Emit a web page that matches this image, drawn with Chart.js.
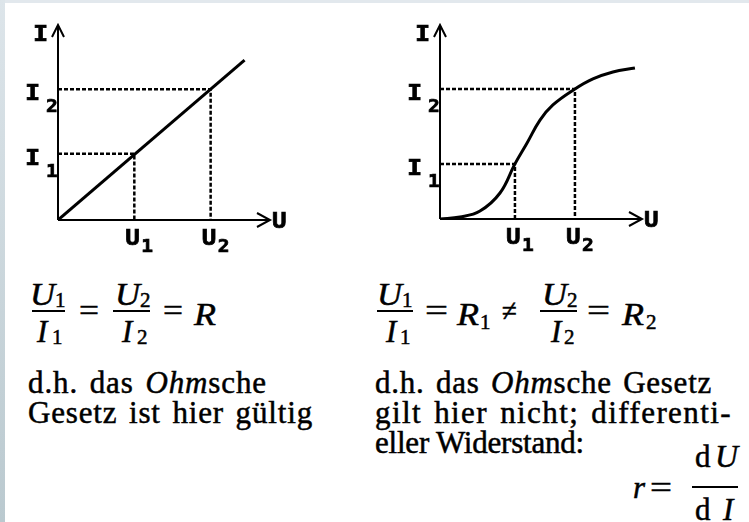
<!DOCTYPE html>
<html>
<head>
<meta charset="utf-8">
<script src="https://cdn.jsdelivr.net/npm/chart.js@4.4.1/dist/chart.umd.min.js"></script>
<style>
  body { margin: 0; background: #fff; }
  #page { position: relative; width: 749px; height: 522px; background: #fff; overflow: hidden;
          font-family: "Liberation Serif", "Times New Roman", serif; color: #000; }
  #page::before { content: ""; position: absolute; left: 0; top: 0; width: 100%; height: 3px; background: #e2e8ed; }
  #page::after { content: ""; position: absolute; left: 0; top: 0; width: 5px; height: 100%;
                 background: linear-gradient(#dde5ea, #bac9cf); }
  canvas { position: absolute; top: 0; }
  #ohm { left: 0; }
  #curve { left: 375px; }
  .t { position: absolute; white-space: nowrap; line-height: 1; transform-origin: 0 0;
       -webkit-text-stroke: 0.5px #000; }
  .bar { position: absolute; height: 2px; background: #000; }
</style>
</head>
<body>
<div id="page">
  <canvas id="ohm" width="330" height="270"></canvas>
  <canvas id="curve" width="374" height="270"></canvas>
</div>
<script>
// left graph: ohmic resistor, straight line through the origin
const ohmU = [0, 8.8];
const ohmI = [0, 8.2];
const ohmMarksU = [3.6, 7.2];   // U1, U2
const ohmMarksI = [3.4, 6.7];   // I1, I2

// right graph: non-linear characteristic
const curveU = [0, 0.99, 1.98, 2.97, 3.71, 4.31, 4.95, 5.59, 6.68, 7.57, 8.56, 9.65];
const curveI = [0, 0.1, 0.41, 1.34, 2.84, 3.92, 5.1, 5.88, 6.7, 7.22, 7.58, 7.78];
const curveMarksU = [3.71, 6.68];
const curveMarksI = [2.84, 6.7];

const markIndex = ['1', '2'];
const axisNames = { x: 'U', y: 'I' };

const LABEL_FONT = '"DejaVu Sans Mono", monospace';

function txt(ctx, s, x, y, size) {
  ctx.save();
  ctx.font = 'bold ' + size + 'px ' + LABEL_FONT;
  ctx.translate(x, y);
  ctx.scale(1.15, 1);
  ctx.lineWidth = 0.7;
  ctx.fillText(s, 0, 0);
  ctx.strokeText(s, 0, 0);
  ctx.restore();
}

// axes with arrow heads and the U1/U2, I1/I2 labels
const axesPlugin = {
  id: 'axes',
  afterDatasetsDraw(chart, args, opts) {
    const { ctx, scales: { x, y } } = chart;
    const x0 = x.getPixelForValue(0), y0 = y.getPixelForValue(0);
    const xEnd = x.getPixelForValue(x.max), yTop = y.getPixelForValue(y.max);
    ctx.save();
    ctx.strokeStyle = '#000';
    ctx.fillStyle = '#000';
    ctx.lineWidth = 2;
    ctx.beginPath();
    ctx.moveTo(x0, y0); ctx.lineTo(x0, yTop);
    ctx.moveTo(x0, y0); ctx.lineTo(xEnd, y0);
    ctx.moveTo(x0 - 6, yTop + 12); ctx.lineTo(x0, yTop); ctx.lineTo(x0 + 6, yTop + 12);
    ctx.moveTo(xEnd - 13, y0 - 7); ctx.lineTo(xEnd, y0); ctx.lineTo(xEnd - 13, y0 + 7);
    ctx.stroke();

    ctx.textBaseline = 'alphabetic';
    txt(ctx, axisNames.x, xEnd + 2, y0 + 8, 21);
    txt(ctx, axisNames.y, x0 - 25, yTop + 16, 22);

    opts.marksU.forEach((v, k) => {
      const px = x.getPixelForValue(v);
      txt(ctx, axisNames.x, px - 9, y0 + 25, 21);
      txt(ctx, markIndex[k], px + 7, y0 + 32, 17);
    });
    opts.marksI.forEach((v, k) => {
      const py = y.getPixelForValue(v);
      txt(ctx, axisNames.y, x0 - 33, py + 11, 22);
      txt(ctx, markIndex[k], x0 - 12, py + 23, 17);
    });
    ctx.restore();
  }
};

function makeChart(id, pad, u, i, mu, mi, smooth) {
  const datasets = [{
    data: u.map((v, k) => ({ x: v, y: i[k] })),
    borderColor: '#000',
    borderWidth: 3,
    pointRadius: 0,
    tension: smooth ? 0.4 : 0
  }];
  // dashed guides from the axes to the marked points
  mu.forEach((v, k) => datasets.push({
    data: [{ x: 0, y: mi[k] }, { x: v, y: mi[k] }, { x: v, y: 0 }],
    borderColor: '#000',
    borderWidth: 2.5,
    borderDash: [4, 2],
    pointRadius: 0,
    tension: 0
  }));
  return new Chart(document.getElementById(id).getContext('2d'), {
    type: 'line',
    data: { datasets },
    options: {
      responsive: false,
      animation: false,
      events: [],
      layout: { padding: pad },
      scales: {
        x: { type: 'linear', min: 0, max: 10, display: false },
        y: { type: 'linear', min: 0, max: 10, display: false }
      },
      plugins: {
        legend: { display: false },
        tooltip: { enabled: false },
        axes: { marksU: mu, marksI: mi }
      }
    },
    plugins: [axesPlugin]
  });
}

makeChart('ohm', { left: 58, right: 60, top: 25, bottom: 50 }, ohmU, ohmI, ohmMarksU, ohmMarksI, false);
makeChart('curve', { left: 65, right: 107, top: 25, bottom: 51 }, curveU, curveI, curveMarksU, curveMarksI, true);

// text and formulas under the graphs
const page = document.getElementById('page');

function put(html, x, base, size, italic, w) {
  const el = document.createElement('div');
  el.className = 't';
  el.innerHTML = html;
  el.style.left = x + 'px';
  el.style.top = (base - 0.8375 * size) + 'px';
  el.style.fontSize = size + 'px';
  if (italic) el.style.fontStyle = 'italic';
  page.appendChild(el);
  if (w) el.style.transform = 'scaleX(' + (w / el.getBoundingClientRect().width) + ')';
  return el;
}

// text line spread to a given width with letter and word spacing
function line(html, x, base, w, ws) {
  const el = put(html, x, base, 31, false);
  el.style.wordSpacing = (ws === undefined ? 3 : ws) + 'px';
  const w0 = el.getBoundingClientRect().width;
  el.style.letterSpacing = ((w - w0) / el.textContent.length) + 'px';
}

function bar(x1, x2, y) {
  const el = document.createElement('div');
  el.className = 'bar';
  el.style.left = x1 + 'px';
  el.style.width = (x2 - x1) + 'px';
  el.style.top = (y - 1) + 'px';
  page.appendChild(el);
}

// U1/I1 = U2/I2 = R
put('U', 30, 305, 31, true, 25); put('1', 55, 308, 21);
bar(32, 65, 311);
put('I', 37, 342, 31, true); put('1', 52, 345, 21);
put('=', 79, 321, 31, false, 20);
put('U', 115, 305, 31, true, 25); put('2', 140, 308, 21);
bar(113, 150, 311);
put('I', 122, 342, 31, true); put('2', 137, 345, 21);
put('=', 163, 321, 31, false, 20);
put('R', 194, 325, 32, true, 22);

// U1/I1 = R1 ≠ U2/I2 = R2
put('U', 377, 305, 31, true, 25); put('1', 402, 308, 21);
bar(377, 413, 311);
put('I', 386, 342, 31, true); put('1', 400, 345, 21);
put('=', 425, 321, 31, false, 23);
put('R', 457, 325, 32, true, 22); put('1', 480, 330, 21);
put('≠', 502, 321, 31, false, 15);
put('U', 542, 305, 31, true, 25); put('2', 567, 308, 21);
bar(540, 577, 311);
put('I', 551, 342, 31, true); put('2', 564, 345, 21);
put('=', 587, 321, 31, false, 23);
put('R', 622, 325, 32, true, 22); put('2', 646, 330, 21);

line('d.h. das <i>Ohm</i>sche', 28, 393, 239);
line('Gesetz ist hier gültig', 28, 423, 285);
line('d.h. das <i>Ohm</i>sche Gesetz', 375, 393, 337);
line('gilt hier nicht; differenti-', 375, 423, 357);
line('eller Widerstand:', 375, 453, 209, 0);

// r = dU/dI
put('r', 633, 498, 31, true);
put('=', 650, 498, 31, false, 22);
put('d', 695, 467, 31); put('U', 715, 467, 31, true, 23);
bar(692, 738, 487);
put('d', 695, 520, 31); put('I', 723, 520, 31, true);
</script>
</body>
</html>
